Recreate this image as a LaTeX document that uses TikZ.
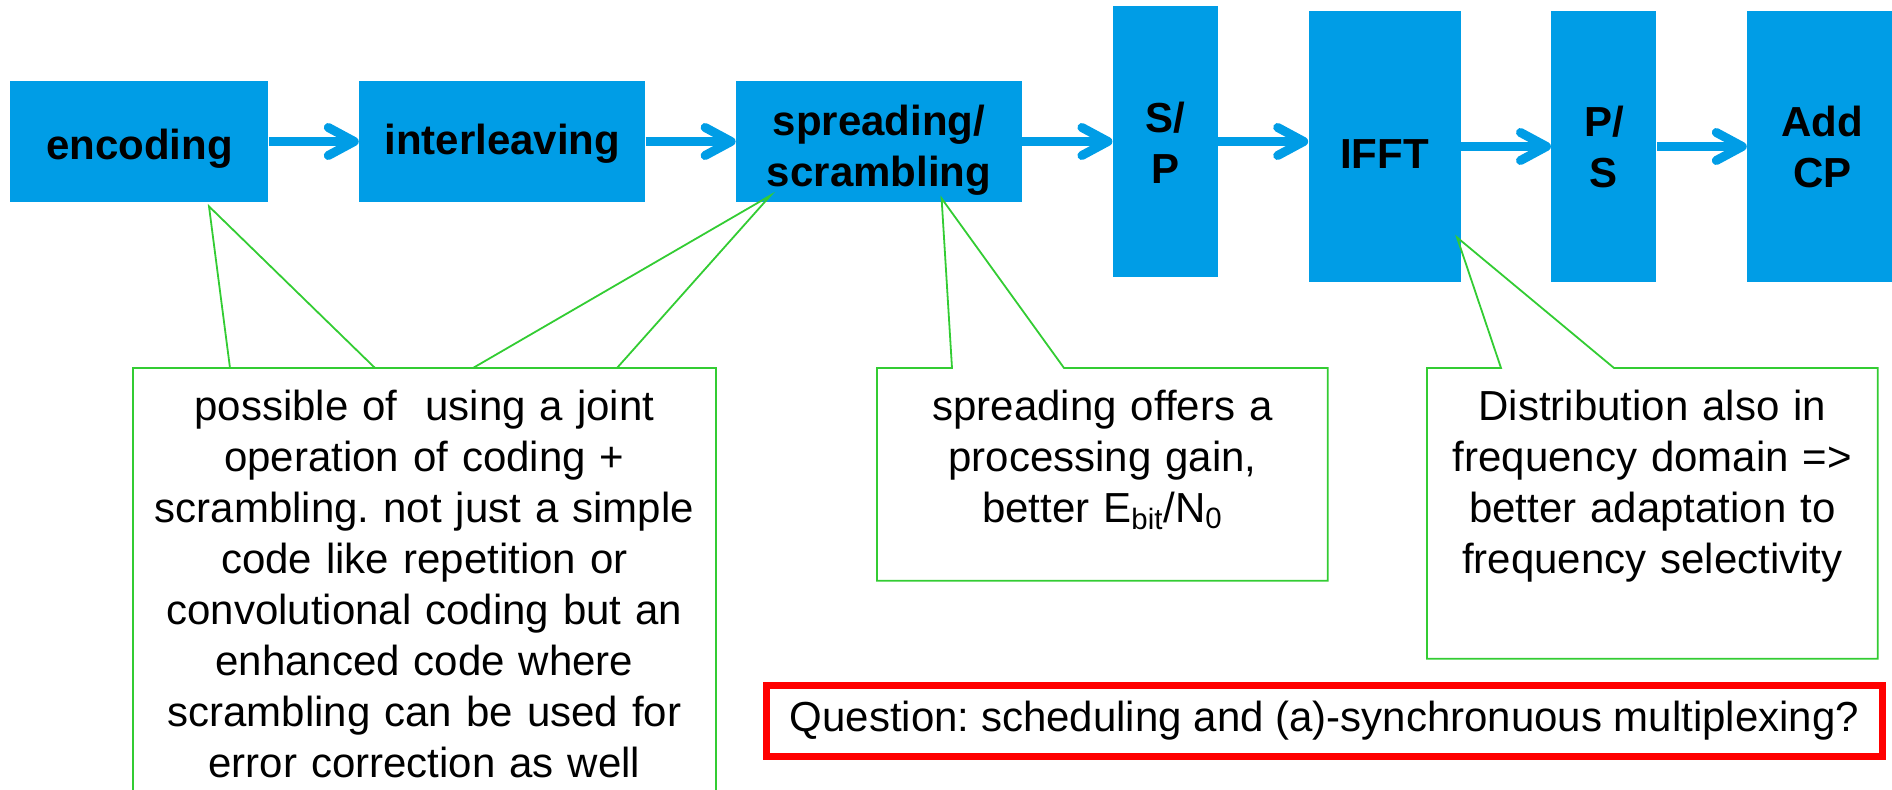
\documentclass[tikz,border=0pt]{standalone}
\usepackage{fontspec}
\setmainfont{Liberation Sans}
\frenchspacing
\usetikzlibrary{arrows.meta,positioning}
\definecolor{blockblue}{RGB}{0,157,230}
\definecolor{notegreen}{RGB}{51,204,51}

\begin{document}
\begin{tikzpicture}[
  node distance=45pt,
  block/.style={fill=blockblue, inner sep=0pt, align=center, minimum height=60.5pt,
                minimum width=#1, text width=#1, text height=30pt,
                font=\fontsize{21}{25.5}\selectfont\bfseries},
  tallblock/.style={block=#1, minimum height=135.5pt},
  note/.style={anchor=north west, align=center, inner xsep=5pt, inner ysep=0pt,
               text height=26pt, font=\fontsize{21}{25.5}\selectfont},
  callout/.style={draw=notegreen, line width=0.9pt},
  question/.style={draw=red, line width=3.5pt, minimum width=558pt, minimum height=35.5pt,
                   inner sep=0pt, font=\fontsize{21}{25.5}\selectfont},
  arrow/.style={draw=blockblue, line width=4.5pt,
                -{Straight Barb[length=13pt, width=14pt, round]}}]
  \useasboundingbox (0,0) rectangle (946pt,-395pt);
  \clip (0,0) rectangle (946pt,-395pt);
  \node[block=129pt, text depth=11.5pt, anchor=west] (enc) at (5pt,-70.75pt) {encoding};
  \node[block=143pt, text depth=16.5pt, right=of enc] (ilv) {interleaving};
  \node[block=143pt, text height=27pt, text depth=32.5pt, right=of ilv] (spr) {spreading/\\scrambling};
  \node[tallblock=52.5pt, text depth=38.5pt, right=of spr] (sp) {S/\\P};
  \node[tallblock=76pt, text depth=7.5pt, right=of sp, yshift=-2.5pt] (ifft) {IFFT};
  \node[tallblock=52.5pt, text depth=39.5pt, right=of ifft] (ps) {P/\\S};
  \node[tallblock=75pt, text depth=39.5pt, right=of ps] (cp) {Add\\CP};
  \draw[arrow] (enc) -- (ilv);
  \draw[arrow] (ilv) -- (spr);
  \draw[arrow] (spr) -- (sp);
  \draw[arrow] (sp.east) -- (sp.east -| ifft.west);
  \draw[arrow] (ifft) -- (ps);
  \draw[arrow] (ps) -- (cp);
  \coordinate (encTip) at ([xshift=99.5pt,yshift=-2pt]enc.south west);
  \coordinate (sprTipA) at ([xshift=17.5pt,yshift=3.5pt]spr.south west);
  \coordinate (sprTipB) at ([xshift=103pt,yshift=2pt]spr.south west);
  \coordinate (ifftTip) at ([xshift=-2pt,yshift=22.5pt]ifft.south east);
  \node[note, text width=281pt, text depth=190pt] (joint) at (66.5pt,-184pt)
    {possible of~ using a joint\\operation of coding +\\scrambling. not just a simple\\
     code like repetition or\\convolutional coding but an\\enhanced code where\\
     scrambling can be used for\\error correction as well};
  \node[note, text width=215pt, text depth=80pt] (gain) at (438.5pt,-184pt)
    {spreading offers a\\processing gain,\\better E\textsubscript{bit}/N\textsubscript{0}};
  \node[note, text width=215pt, text depth=119pt] (dist) at (713.5pt,-184pt)
    {Distribution also in\\frequency domain =>\\better adaptation to\\frequency selectivity};
  \draw[callout] (joint.south west) rectangle (joint.north east);
  \draw[callout] ([xshift=48.5pt]joint.north west) -- (encTip) -- ([xshift=121pt]joint.north west);
  \draw[callout] ([xshift=170pt]joint.north west) -- (sprTipA) -- ([xshift=242pt]joint.north west);
  \draw[callout] ([xshift=37.5pt]gain.north west) -- (sprTipB) -- ([xshift=93.5pt]gain.north west)
    -- (gain.north east) -- (gain.south east) -- (gain.south west) -- (gain.north west) -- cycle;
  \draw[callout] ([xshift=37pt]dist.north west) -- (ifftTip) -- ([xshift=93.5pt]dist.north west)
    -- (dist.north east) -- (dist.south east) -- (dist.south west) -- (dist.north west) -- cycle;
  \node[question] (quest) at (662.25pt,-360.5pt)
    {Question: scheduling and (a)-synchronuous multiplexing?};
\end{tikzpicture}
\end{document}
